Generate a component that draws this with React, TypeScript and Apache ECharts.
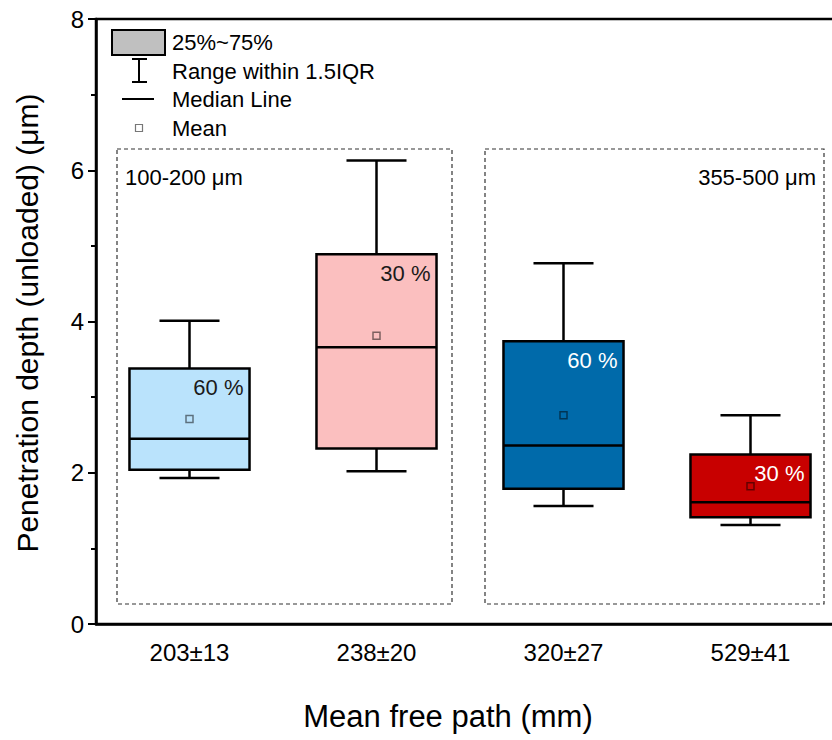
import React, { useEffect, useRef } from "react";
import * as echarts from "echarts";

const categories = ["203±13", "238±20", "320±27", "529±41"];
const whiskerLow = [1.93, 2.02, 1.56, 1.31];
const q1 = [2.04, 2.32, 1.79, 1.41];
const median = [2.45, 3.66, 2.36, 1.61];
const q3 = [3.38, 4.89, 3.74, 2.24];
const whiskerHigh = [4.01, 6.13, 4.77, 2.76];
const means = [2.71, 3.81, 2.76, 1.82];
const fractions = ["60 %", "30 %", "60 %", "30 %"];
const boxColors = ["#BAE3FC", "#FBBFBF", "#006AAA", "#C80000"];
const fractionColors = ["#1a1a1a", "#1a1a1a", "#ffffff", "#ffffff"];
const legendLabels = ["25%~75%", "Range within 1.5IQR", "Median Line", "Mean"];
const groupLabels = ["100-200 μm", "355-500 μm"];

const FONT = "'Liberation Sans', Arial, Helvetica, sans-serif";

export default function App() {
  const ref = useRef<HTMLDivElement>(null);
  useEffect(() => {
    if (!ref.current) return;
    const chart = echarts.init(ref.current, undefined, { renderer: "svg" });
    const data = categories.map((_, i) => [
      i,
      whiskerLow[i],
      q1[i],
      median[i],
      q3[i],
      whiskerHigh[i],
      means[i],
    ]);

    const renderItem = (params: any, api: any) => {
      const idx = params.dataIndex;
      const i = api.value(0);
      const x = api.coord([i, 0])[0];
      const yLo = api.coord([i, api.value(1)])[1];
      const yQ1 = api.coord([i, api.value(2)])[1];
      const yMed = api.coord([i, api.value(3)])[1];
      const yQ3 = api.coord([i, api.value(4)])[1];
      const yHi = api.coord([i, api.value(5)])[1];
      const yMean = api.coord([i, api.value(6)])[1];
      const band = api.size([1, 0])[0];
      const bw = band * 0.642;
      const cw = bw / 2;
      const lineStyle = { stroke: "#000", lineWidth: 2.5 };
      return {
        type: "group",
        children: [
          { type: "line", shape: { x1: x, y1: yHi, x2: x, y2: yQ3 }, style: lineStyle },
          { type: "line", shape: { x1: x, y1: yQ1, x2: x, y2: yLo }, style: lineStyle },
          { type: "line", shape: { x1: x - cw / 2, y1: yHi, x2: x + cw / 2, y2: yHi }, style: lineStyle },
          { type: "line", shape: { x1: x - cw / 2, y1: yLo, x2: x + cw / 2, y2: yLo }, style: lineStyle },
          {
            type: "rect",
            shape: { x: x - bw / 2, y: yQ3, width: bw, height: yQ1 - yQ3 },
            style: { fill: boxColors[idx], stroke: "#000", lineWidth: 2.5 },
          },
          { type: "line", shape: { x1: x - bw / 2, y1: yMed, x2: x + bw / 2, y2: yMed }, style: lineStyle },
          {
            type: "rect",
            shape: { x: x - 3.5, y: yMean - 3.5, width: 7, height: 7 },
            style: { fill: "transparent", stroke: "rgba(0,0,0,0.5)", lineWidth: 1.5 },
          },
          {
            type: "text",
            x: x + bw / 2 - 6,
            y: yQ3 + 19,
            style: {
              text: fractions[idx],
              fill: fractionColors[idx],
              font: `22px ${FONT}`,
              align: "right",
              verticalAlign: "middle",
            },
          },
        ],
      };
    };

    const textStyle = (size: number) => ({ font: `${size}px ${FONT}`, fill: "#000" });

    chart.setOption({
      animation: false,
      grid: {
        left: 96,
        top: 19,
        width: 748,
        height: 605,
        show: true,
        borderColor: "#000",
        borderWidth: 2.5,
        backgroundColor: "transparent",
      },
      xAxis: {
        type: "category",
        data: categories,
        boundaryGap: true,
        axisLine: { lineStyle: { color: "#000", width: 2.5 } },
        axisTick: { inside: true, length: 9, alignWithLabel: true, lineStyle: { color: "#000", width: 2 } },
        axisLabel: { fontSize: 24, color: "#000", fontFamily: FONT, margin: 16 },
        splitLine: { show: false },
      },
      yAxis: {
        type: "value",
        min: 0,
        max: 8,
        interval: 2,
        axisLine: { show: true, lineStyle: { color: "#000", width: 2.5 } },
        axisTick: { show: true, length: 8, lineStyle: { color: "#000", width: 2 } },
        minorTick: { show: true, splitNumber: 2, length: 5, lineStyle: { color: "#000", width: 2 } },
        axisLabel: { fontSize: 24, color: "#000", fontFamily: FONT, margin: 12 },
        splitLine: { show: false },
      },
      series: [
        {
          type: "custom",
          renderItem,
          data,
          encode: { x: 0, y: [1, 2, 3, 4, 5, 6] },
          z: 5,
        },
      ],
      graphic: [
        // dashed group frames
        {
          type: "rect",
          shape: { x: 117, y: 149, width: 335, height: 455 },
          style: { fill: "transparent", stroke: "#333", lineWidth: 1.2, lineDash: [4, 3] },
          z: 1,
        },
        {
          type: "rect",
          shape: { x: 485, y: 149, width: 339, height: 455 },
          style: { fill: "transparent", stroke: "#333", lineWidth: 1.2, lineDash: [4, 3] },
          z: 1,
        },
        {
          type: "text",
          x: 125,
          y: 177,
          style: { text: groupLabels[0], ...textStyle(22), align: "left", verticalAlign: "middle" },
        },
        {
          type: "text",
          x: 816,
          y: 177,
          style: { text: groupLabels[1], ...textStyle(22), align: "right", verticalAlign: "middle" },
        },
        // legend
        {
          type: "rect",
          shape: { x: 112, y: 30, width: 53, height: 25 },
          style: { fill: "#C0C0C0", stroke: "#000", lineWidth: 2 },
        },
        { type: "text", x: 172, y: 42, style: { text: legendLabels[0], ...textStyle(22), verticalAlign: "middle" } },
        { type: "line", shape: { x1: 139, y1: 59, x2: 139, y2: 82 }, style: { stroke: "#000", lineWidth: 2 } },
        { type: "line", shape: { x1: 132, y1: 59, x2: 147, y2: 59 }, style: { stroke: "#000", lineWidth: 2 } },
        { type: "line", shape: { x1: 132, y1: 82, x2: 147, y2: 82 }, style: { stroke: "#000", lineWidth: 2 } },
        { type: "text", x: 172, y: 71, style: { text: legendLabels[1], ...textStyle(22), verticalAlign: "middle" } },
        { type: "line", shape: { x1: 122, y1: 99, x2: 154, y2: 99 }, style: { stroke: "#000", lineWidth: 2 } },
        { type: "text", x: 172, y: 99, style: { text: legendLabels[2], ...textStyle(22), verticalAlign: "middle" } },
        {
          type: "rect",
          shape: { x: 135.5, y: 124.5, width: 7, height: 7 },
          style: { fill: "transparent", stroke: "#777", lineWidth: 1.2 },
        },
        { type: "text", x: 172, y: 128, style: { text: legendLabels[3], ...textStyle(22), verticalAlign: "middle" } },
        // axis titles
        {
          type: "text",
          x: 448,
          y: 716,
          style: { text: "Mean free path (mm)", ...textStyle(31), align: "center", verticalAlign: "middle" },
        },
        {
          type: "text",
          x: 27,
          y: 323,
          rotation: Math.PI / 2,
          style: {
            text: "Penetration depth (unloaded) (μm)",
            ...textStyle(30),
            align: "center",
            verticalAlign: "middle",
          },
        },
      ],
    });
    return () => chart.dispose();
  }, []);
  return (
    <div
      ref={ref}
      style={{ position: "fixed", left: 0, top: 0, width: 860, height: 740, background: "#fff" }}
    />
  );
}
